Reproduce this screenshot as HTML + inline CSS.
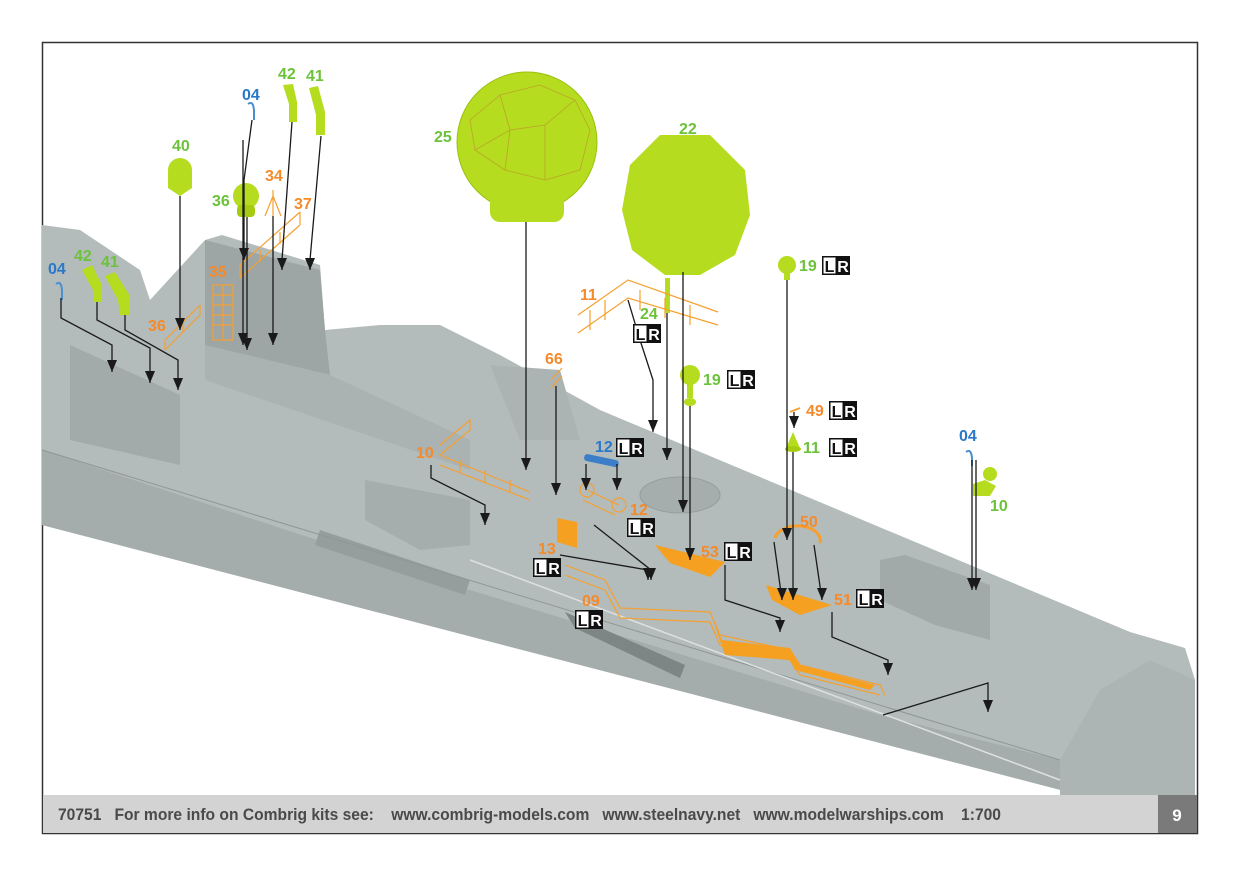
<!DOCTYPE html>
<html><head><meta charset="utf-8"><style>
html,body{margin:0;padding:0;background:#fff;}
svg{display:block;}
.l{font-family:"Liberation Sans Narrow","Liberation Sans",sans-serif;font-weight:bold;font-size:16px;}
.o{fill:#f58a2a}.g{fill:#6cc23a}.b{fill:#2a78c8}
.a{stroke:#1a1a1a;stroke-width:1.3;fill:none;marker-end:url(#ad)}
.ft{font-family:"Liberation Sans Narrow","Liberation Sans",sans-serif;font-weight:bold;font-size:17px;fill:#4a4a4a;}
</style></head><body>
<svg width="1241" height="875" viewBox="0 0 1241 875" xmlns="http://www.w3.org/2000/svg">
<defs>
<marker id="ad" markerWidth="10" markerHeight="12" refX="5" refY="12" markerUnits="userSpaceOnUse"><path d="M0,0 L10,0 L5,12 Z" fill="#1a1a1a"/></marker>
<g id="lr"><rect x="0" y="0" width="28" height="19" fill="#111"/><rect x="1.5" y="1.5" width="12" height="16" fill="#fff"/><text x="7.5" y="16" text-anchor="middle" font-family="Liberation Sans" font-weight="bold" font-size="16" fill="#111">L</text><text x="21" y="16" text-anchor="middle" font-family="Liberation Sans" font-weight="bold" font-size="16" fill="#fff">R</text></g>
</defs>
<rect x="42.5" y="42.5" width="1155" height="791" fill="#fff" stroke="#333" stroke-width="1.5"/>
<!-- ship -->
<polygon fill="#b4bbbb" points="42,225 80,230 140,270 150,300 205,240 222,235 320,265 325,330 380,325 440,325 500,355 600,410 1130,632 1185,648 1195,680 1195,795 1080,795 42,525"/>
<polygon fill="#a5acac" points="42,450 470,590 880,715 1060,760 1195,760 1195,795 1080,795 42,525"/>
<polygon fill="#9ea5a5" points="205,240 320,270 325,330 330,375 205,345"/>
<polygon fill="#abb2b2" points="205,345 330,375 470,440 470,470 205,380"/>
<polygon fill="#a3aaaa" points="70,345 180,395 180,465 70,440"/>
<polygon fill="#adb4b4" points="1100,690 1150,660 1195,680 1195,795 1060,795 1060,760"/>
<polygon fill="#a2a9a9" points="880,560 905,555 990,585 990,640 935,625 880,600"/>
<polygon fill="#acb3b3" points="490,365 560,370 580,440 520,440"/>
<polygon fill="#a6adad" points="365,480 470,500 470,545 420,550 365,520"/>
<ellipse cx="680" cy="495" rx="40" ry="18" fill="#a6adad" stroke="#959c9c"/>
<polygon fill="#7d8585" points="565,612 685,665 680,678 575,628"/>
<polygon fill="#959d9d" points="320,530 470,580 465,595 315,545"/>
<line x1="42" y1="450" x2="1060" y2="760" stroke="#8f9696" stroke-width="1"/>
<line x1="470" y1="560" x2="1060" y2="780" stroke="#dde0e0" stroke-width="1.5"/>
<!-- footer -->
<rect x="43" y="795" width="1115" height="38" fill="#d3d3d3"/>
<rect x="1158" y="795" width="39" height="38" fill="#7a7a7a"/>
<text x="1177" y="821" text-anchor="middle" font-family="Liberation Sans" font-weight="bold" font-size="17" fill="#fff">9</text>
<text x="58" y="820" class="ft" textLength="943" lengthAdjust="spacingAndGlyphs">70751&#160;&#160;&#160;For more info on Combrig kits see:&#160;&#160;&#160;&#160;www.combrig-models.com&#160;&#160;&#160;www.steelnavy.net&#160;&#160;&#160;www.modelwarships.com&#160;&#160;&#160;&#160;1:700</text>
<!-- green parts -->
<circle cx="527" cy="142" r="70" fill="#b5dc1e" stroke="#9cc010"/>
<rect x="490" y="180" width="74" height="42" rx="10" fill="#b5dc1e"/>
<g stroke="#c08a30" stroke-width="0.8" fill="none" opacity="0.7"><path d="M470,120 L500,95 L540,85 L575,100 L590,130 L580,170 L545,180 L505,170 L475,150 Z M500,95 L510,130 L545,125 L575,100 M510,130 L505,170 M545,125 L545,180 M510,130 L475,150"/></g>
<polygon fill="#b5dc1e" points="660,135 710,135 745,170 750,215 735,255 700,275 665,275 632,250 622,210 630,165"/>
<path d="M180,158 a12,12 0 0 1 12,12 v18 l-12,8 l-12,-8 v-18 a12,12 0 0 1 12,-12z" fill="#b5dc1e"/>
<circle cx="246" cy="196" r="13" fill="#b5dc1e"/><rect x="237" y="205" width="18" height="12" rx="4" fill="#a5cc10"/>
<path d="M283,85 L293,84 L297,102 L297,122 L289,122 L289,104 Z" fill="#b5dc1e"/>
<path d="M309,88 L318,86 L325,112 L325,135 L316,135 L316,115 Z" fill="#b5dc1e"/>
<path d="M82,270 L92,265 L102,285 L102,302 L94,302 L93,290 Z" fill="#b5dc1e"/>
<path d="M105,276 L115,272 L130,296 L130,315 L120,315 L118,300 Z" fill="#b5dc1e"/>
<circle cx="787" cy="265" r="9" fill="#b5dc1e"/><rect x="784" y="270" width="6" height="10" fill="#b5dc1e"/>
<circle cx="690" cy="375" r="10" fill="#b5dc1e"/><rect x="687" y="380" width="6" height="18" fill="#b5dc1e"/><ellipse cx="690" cy="402" rx="6" ry="4" fill="#b5dc1e"/>
<path d="M793,432 L800,448 L786,448 Z" fill="#b5dc1e"/><ellipse cx="793" cy="449" rx="8" ry="3" fill="#a5cc10"/>
<circle cx="990" cy="474" r="7" fill="#b5dc1e"/><path d="M973,484 L985,480 L996,486 L990,496 L973,496 Z" fill="#b5dc1e"/>
<rect x="665" y="278" width="5" height="35" fill="#b5dc1e"/>
<!-- blue 04 hooks -->
<g stroke="#4a90d0" stroke-width="2" fill="none"><path d="M248,104 q5,-4 6,6 v10"/><path d="M56,284 q5,-4 6,6 v10"/><path d="M966,452 q5,-4 6,6 v8"/></g>
<rect x="584" y="457" width="35" height="7" rx="3" fill="#3c7ec8" transform="rotate(12 601 460)"/>
<!-- orange parts -->
<g stroke="#f5a030" stroke-width="1.2" fill="none">
<path d="M273,190 v6 M273,196 l-8,20 M273,196 l8,20 M273,196 v20"/>
<path d="M240,265 L300,212 M240,278 L300,225 M240,265 v13 M260,250 v12 M280,232 v12 M300,212 v13"/>
<rect x="213" y="285" width="20" height="55" /><path d="M213,295 h20 M213,305 h20 M213,315 h20 M213,325 h20 M223,285 v55"/>
<path d="M165,340 L200,305 M165,350 L200,315 M165,340 v10 M183,322 v10 M200,305 v10"/>
<path d="M578,315 L628,280 L718,312 M578,333 L628,298 L718,325 M590,310 v20 M605,300 v20 M640,290 v20 M665,298 v20 M690,305 v20"/>
<path d="M551,380 L562,368 M551,388 L562,376"/>
<path d="M440,445 L470,420 L470,430 L440,455 M440,455 L530,492 M440,465 L530,500 M460,460 v12 M485,470 v12 M510,480 v12"/>
<path d="M565,565 L605,580 L620,608 L710,612 L720,635 L790,650 L800,665 L880,685 L885,695"/>
<path d="M565,575 L605,590 L620,618 L710,622 L720,645 L790,660 L800,675 L880,695"/>
<path d="M775,538 a22,14 0 1 1 45,5" stroke-width="3"/>
<path d="M790,412 L800,408" stroke-width="2"/>
<circle cx="587" cy="490" r="7"/><circle cx="619" cy="505" r="7"/><path d="M587,490 L619,505 M583,500 L615,515"/>
</g>
<polygon fill="#f5a020" points="655,545 725,562 710,577 670,563"/>
<polygon fill="#f5a020" points="766,585 832,605 800,615 772,600"/>
<polygon fill="#f5a020" points="557,518 577,522 577,548 557,542"/>
<polygon fill="#f5a020" points="713,620 722,640 790,648 800,665 875,685 870,690 795,670 790,660 725,655"/>
<!-- arrows -->
<g class="a">
<path d="M526,222 V470"/>
<path d="M683,272 V512"/>
<path d="M667,313 V460"/>
<path d="M628,300 L640,340 L653,380 V432"/>
<path d="M787,280 V540"/>
<path d="M690,406 V560"/>
<path d="M793,452 V600"/>
<path d="M556,386 V495"/>
<path d="M180,196 V330"/>
<path d="M243,140 L243,300 V345"/>
<path d="M252,120 L244,180 V260"/>
<path d="M247,217 V350"/>
<path d="M292,122 L282,260 V270"/>
<path d="M321,136 L310,260 V270"/>
<path d="M273,216 V345"/>
<path d="M61,298 V318 L112,345 V372"/>
<path d="M97,302 V320 L150,348 V383"/>
<path d="M125,315 V330 L178,360 V390"/>
<path d="M431,465 V478 L485,505 V525"/>
<path d="M617,464 V490"/>
<path d="M586,464 V490"/>
<path d="M594,525 L651,570 V580"/>
<path d="M560,555 L648,570 V580"/>
<path d="M972,460 V590"/>
<path d="M976,460 V590"/>
<path d="M774,542 L782,600"/>
<path d="M814,545 L822,600"/>
<path d="M725,565 V600 L780,618 V632"/>
<path d="M832,612 V637 L888,660 V675"/>
<path d="M883,715 L988,683 V712"/>
<path d="M794,412 V428"/>
</g>
<!-- labels -->
<g class="l">
<text x="434" y="142" class="g">25</text>
<text x="679" y="134" class="g">22</text>
<text x="172" y="151" class="g">40</text>
<text x="212" y="206" class="g">36</text>
<text x="242" y="100" class="b">04</text>
<text x="278" y="79" class="g">42</text>
<text x="306" y="81" class="g">41</text>
<text x="265" y="181" class="o">34</text>
<text x="294" y="209" class="o">37</text>
<text x="209" y="277" class="o">35</text>
<text x="148" y="331" class="o">36</text>
<text x="48" y="274" class="b">04</text>
<text x="74" y="261" class="g">42</text>
<text x="101" y="267" class="g">41</text>
<text x="580" y="300" class="o">11</text>
<text x="640" y="319" class="g">24</text>
<text x="799" y="271" class="g">19</text>
<text x="703" y="385" class="g">19</text>
<text x="545" y="364" class="o">66</text>
<text x="806" y="416" class="o">49</text>
<text x="803" y="453" class="g">11</text>
<text x="959" y="441" class="b">04</text>
<text x="990" y="511" class="g">10</text>
<text x="416" y="458" class="o">10</text>
<text x="595" y="452" class="b">12</text>
<text x="630" y="515" class="o">12</text>
<text x="800" y="527" class="o">50</text>
<text x="701" y="557" class="o">53</text>
<text x="538" y="554" class="o">13</text>
<text x="582" y="606" class="o">09</text>
<text x="834" y="605" class="o">51</text>
</g>
<use href="#lr" x="633" y="324"/>
<use href="#lr" x="822" y="256"/>
<use href="#lr" x="727" y="370"/>
<use href="#lr" x="829" y="401"/>
<use href="#lr" x="829" y="438"/>
<use href="#lr" x="616" y="438"/>
<use href="#lr" x="627" y="518"/>
<use href="#lr" x="724" y="542"/>
<use href="#lr" x="533" y="558"/>
<use href="#lr" x="575" y="610"/>
<use href="#lr" x="856" y="589"/>
</svg>
</body></html>
